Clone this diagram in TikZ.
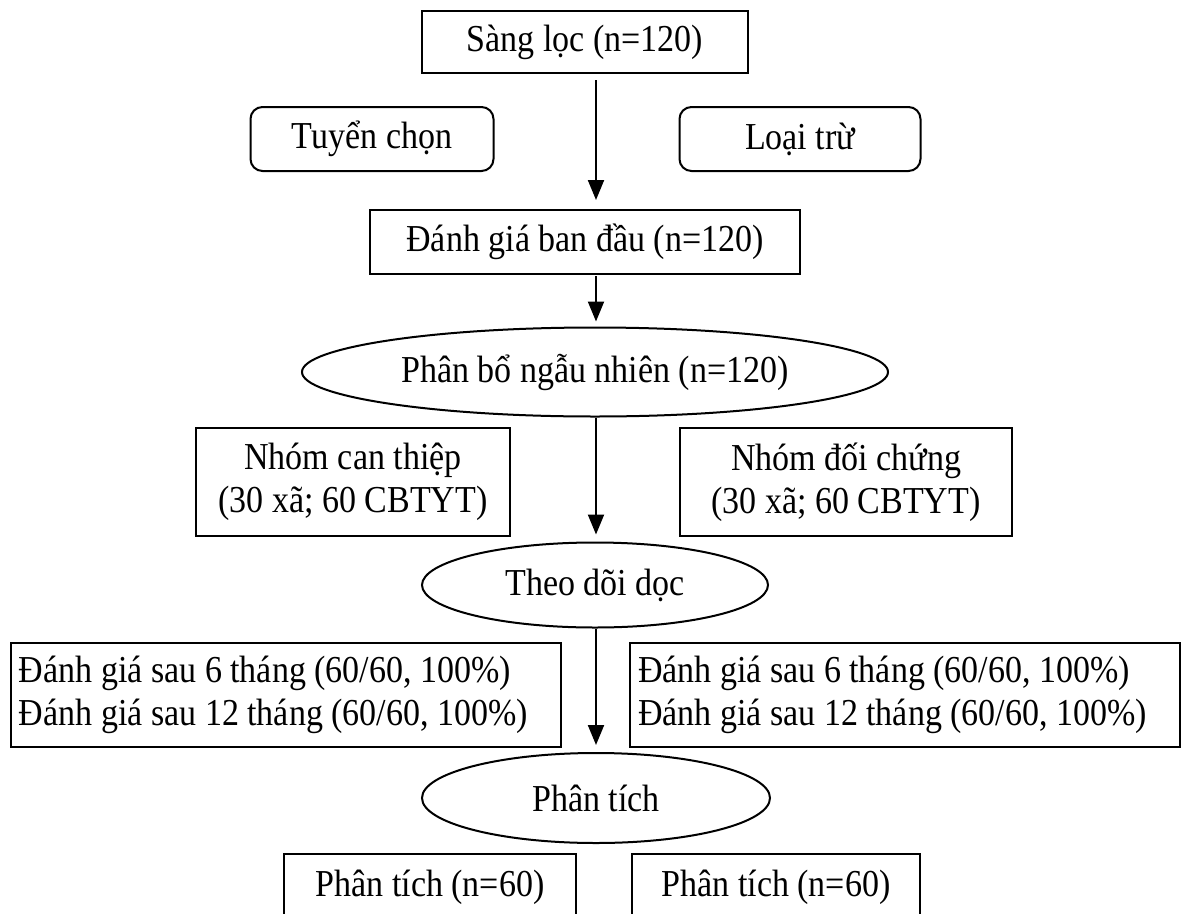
\documentclass[tikz,border=0pt]{standalone}
\usepackage{fontspec}
\usepackage{graphicx}
\setmainfont{Liberation Serif}
\usetikzlibrary{shapes.geometric,arrows.meta}
\newcommand{\tx}[1]{\scalebox{1}[1.12]{#1}}
\begin{document}
\begin{tikzpicture}[x=1pt,y=-1pt,
  txt/.style={font=\fontsize{34}{43}\selectfont},
  sq/.style={txt, draw, rectangle, line width=2pt, inner sep=0pt},
  rr/.style={sq, rounded corners=12pt},
  ov/.style={txt, draw, ellipse, line width=2pt, inner sep=0pt},
  lbox/.style={sq, align=flush left, inner xsep=8pt, text width=534pt, minimum height=104pt},
  arr/.style={-{Triangle[length=20pt,width=16pt]}, line width=2pt}]
\useasboundingbox (0,0) rectangle (1186,913);
\fill[white] (0,0) rectangle (1186,913);
\coordinate (ax) at (596,0);

\node[sq, minimum width=326pt, minimum height=62pt] (sang) at (585,42) {\tx{Sàng lọc (n=120)}};
\node[rr, minimum width=243pt, minimum height=64pt] (tuyen) at (372,139) {\tx{Tuyển chọn}};
\node[rr, minimum width=241pt, minimum height=64pt] (loai) at (800,139) {\tx{Loại trừ}};
\node[sq, minimum width=430pt, minimum height=64pt] (dgbd) at (585,242) {\tx{Đánh giá ban đầu (n=120)}};
\node[ov, minimum width=586pt, minimum height=89pt] (pb) at (595,372) {\tx{Phân bổ ngẫu nhiên (n=120)}};
\node[sq, align=center, minimum width=314pt, minimum height=108pt] (nct) at (353,482) {\tx{Nhóm can thiệp}\\\tx{(30 xã; 60 CBTYT)}};
\node[sq, align=center, minimum width=332pt, minimum height=108pt] (ndc) at (846,482) {\tx{Nhóm đối chứng}\\\tx{(30 xã; 60 CBTYT)}};
\node[ov, minimum width=346pt, minimum height=85pt] (tdd) at (595,585) {\tx{Theo dõi dọc}};
\node[lbox] (dgl) at (286,695) {\tx{Đánh giá sau 6 tháng (60/60, 100\%)}\\\tx{Đánh giá sau 12 tháng (60/60, 100\%)}};
\node[lbox] (dgr) at (905,695) {\tx{Đánh giá sau 6 tháng (60/60, 100\%)}\\\tx{Đánh giá sau 12 tháng (60/60, 100\%)}};
\node[ov, minimum width=348pt, minimum height=90pt] (pt) at (596,798) {\tx{Phân tích}};
\node[sq, minimum width=292pt, minimum height=66pt] (ptl) at (430,887) {\tx{Phân tích (n=60)}};
\node[sq, minimum width=288pt, minimum height=66pt] (ptr) at (776,887) {\tx{Phân tích (n=60)}};

\draw[arr, shorten <=6pt, shorten >=9pt] (sang.south -| ax) -- (dgbd.north -| ax);
\draw[arr, shorten <=1pt, shorten >=5pt] (dgbd.south -| ax) -- (pb.north -| ax);
\draw[arr, shorten >=7pt] (pb.south -| ax) -- (tdd.north -| ax);
\draw[arr, shorten >=7pt] (tdd.south -| ax) -- (pt.north -| ax);
\end{tikzpicture}
\end{document}
